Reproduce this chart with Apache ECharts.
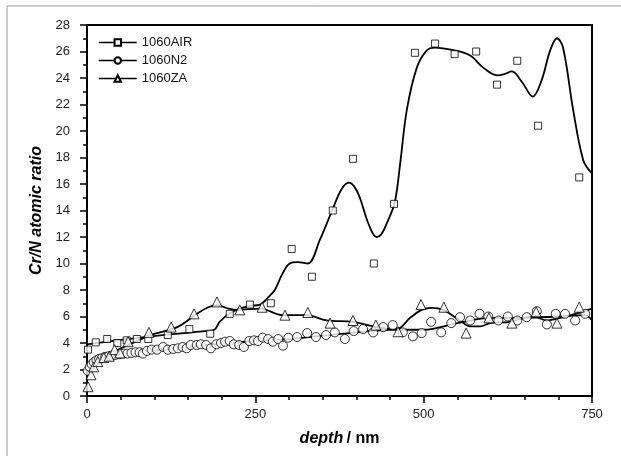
<!DOCTYPE html>
<html>
<head>
<meta charset="utf-8">
<script src="https://cdn.jsdelivr.net/npm/echarts@6/dist/echarts.min.js"></script>
<style>
html,body{margin:0;padding:0;background:#fff;}
#main{width:621px;height:456px;}
</style>
</head>
<body>
<div id="main"></div>
<script>
// 测点数据
var airX = [1.5,13,30,45,59,74,91,120,152,183,212,242,273,304,334,365,395,426,456,487,517,546,578,609,639,670,731];
var airY = [3.5,4.05,4.3,4.0,4.2,4.3,4.3,4.6,5.05,4.7,6.2,6.9,7.0,11.1,9.0,14.0,17.9,10.0,14.5,25.9,26.6,25.8,26.0,23.5,25.3,20.4,16.5];

var n2X = [1,4,7,10,14,18,22,27,32,37,42,48,54,60,66,72,78,83,89,96,104,113,120,128,135,142,148,154,163,169,177,184,192,199,205,212,218,226,233,241,248,254,261,269,276,284,291,299,312,327,340,355,368,383,396,410,425,440,454,469,484,497,511,526,541,554,569,583,596,611,625,639,653,668,683,696,710,725,740];
var n2Y = [1.9,2.2,2.4,2.55,2.7,2.8,2.85,2.95,3.0,3.05,3.1,3.15,3.2,3.2,3.25,3.3,3.3,3.2,3.4,3.5,3.5,3.7,3.5,3.55,3.6,3.7,3.6,3.85,3.85,3.9,3.85,3.6,3.9,4.0,4.1,4.15,3.9,3.85,3.7,4.15,4.2,4.15,4.4,4.3,4.1,4.3,3.8,4.4,4.45,4.75,4.45,4.6,4.8,4.3,4.9,5.05,4.8,5.2,5.35,4.8,4.5,4.75,5.6,4.8,5.5,5.95,5.7,6.2,6.0,5.7,6.0,5.7,5.95,6.4,5.4,6.2,6.2,5.7,6.2];

var zaX = [1.5,6,10,16,25,33,41,49,61,92,125,159,193,227,260,294,328,361,395,429,462,496,530,563,597,631,667,698,731];
var zaY = [0.7,1.6,2.2,2.6,2.9,3.0,3.5,3.25,4.1,4.8,5.2,6.2,7.1,6.5,6.7,6.1,6.3,5.5,5.7,5.35,4.85,6.9,6.7,4.75,5.9,5.5,6.35,5.5,6.7];

// 拟合曲线
var airFitX = [0,44,95,144,175,189,197,212,227,242,257,272,279,290,301,313,328,346,364,378,389,397,405,418,430,437,445,457,465,475,490,505,517,544,569,588,609,620,631,646,662,675,688,698,707,722,737,750];
var airFitY = [3.9,4.2,4.5,4.75,4.9,5.0,5.6,6.25,6.6,6.8,6.9,7.6,8.0,9.2,10.0,10.1,10.0,11.8,14.0,15.6,16.1,15.8,15.0,13.0,12.0,12.2,13.0,14.6,17.5,21.6,24.8,26.1,26.3,26.1,25.7,24.8,24.2,24.3,24.5,23.7,22.6,23.8,26.1,27.0,26.3,21.6,17.8,16.8];

var n2FitX = [0,30,80,150,200,250,300,350,400,450,500,550,600,650,700,740,750];
var n2FitY = [2.0,2.9,3.3,3.7,3.95,4.15,4.3,4.55,4.8,5.0,5.0,5.5,5.9,5.9,6.0,6.1,5.7];

var zaFitX = [0,10,25,55,95,134,163,180,193,210,223,257,291,326,356,395,430,460,480,497,512,529,554,569,584,599,628,663,683,703,732,750];
var zaFitY = [2.0,2.2,2.9,3.7,4.6,5.2,6.2,6.7,6.85,6.6,6.5,6.6,6.1,6.1,5.7,5.6,5.2,5.05,5.9,6.5,6.65,6.5,5.7,5.25,5.25,5.5,5.6,6.0,5.7,5.9,6.3,6.6];

var names = ['1060AIR','1060N2','1060ZA'];

function pairs(xs, ys){
    var out = [];
    for(var i=0;i<xs.length;i++){
        out.push([xs[i], ys[i]]);
    }
    return out;
}

var dom = document.getElementById("main");
var myChart = echarts.init(dom);

var font = 'Liberation Sans, Arial, sans-serif';
var markStyle = {color:'#fff', borderColor:'#000', borderWidth:1};

function fitSeries(name, xs, ys, sym){
    return {
        name: name,
        type: 'line',
        smooth: 0.35,
        symbol: sym,
        showSymbol: false,
        symbolSize: 7,
        itemStyle: markStyle,
        lineStyle: {color:'#000', width:1.8},
        z: 2,
        silent: true,
        data: pairs(xs, ys)
    };
}
function pointSeries(name, xs, ys, sym, size){
    return {
        name: name,
        type: 'scatter',
        symbol: sym,
        symbolSize: size,
        itemStyle: markStyle,
        z: 3,
        data: pairs(xs, ys)
    };
}

var option = {
    animation: false,
    textStyle: {fontFamily: font},
    graphic: [{
        type: 'rect',
        shape: {x: 7, y: 6, width: 700, height: 500},
        style: {fill: 'none', stroke: '#999', lineWidth: 1},
        silent: true
    }],
    grid: {
        left: 87, right: 29, top: 25, bottom: 60,
        show: true,
        borderColor: '#000',
        borderWidth: 2
    },
    legend: {
        orient: 'vertical',
        left: 93,
        top: 31,
        itemWidth: 38,
        itemHeight: 8,
        itemGap: 5,
        data: names,
        lineStyle: {width: 1.5},
        textStyle: {fontSize: 13, color: '#111', fontFamily: font},
        selectedMode: false
    },
    xAxis: {
        type: 'value',
        min: 0, max: 750, interval: 250,
        name: '{i|depth} {n|/ nm}',
        nameLocation: 'middle',
        nameGap: 35,
        nameTextStyle: {
            rich: {
                i: {fontSize: 16, fontWeight: 'bold', fontStyle: 'italic', color: '#000', fontFamily: font},
                n: {fontSize: 16, fontWeight: 'bold', color: '#000', fontFamily: font}
            }
        },
        axisLine: {lineStyle: {color: '#000', width: 2}},
        axisTick: {length: 7, lineStyle: {color: '#000', width: 1.5}},
        minorTick: {show: true, splitNumber: 5, length: 4, lineStyle: {color: '#000', width: 1.5}},
        splitLine: {show: false},
        axisLabel: {margin: 12, fontSize: 13, color: '#222', fontFamily: font}
    },
    yAxis: {
        type: 'value',
        min: 0, max: 28, interval: 2,
        name: 'Cr/N atomic ratio',
        nameLocation: 'middle',
        nameGap: 38,
        nameTextStyle: {fontSize: 16, fontWeight: 'bold', fontStyle: 'italic', color: '#000', fontFamily: font},
        axisLine: {lineStyle: {color: '#000', width: 2}},
        axisTick: {length: 7, lineStyle: {color: '#000', width: 1.5}},
        minorTick: {show: true, splitNumber: 2, length: 4, lineStyle: {color: '#000', width: 1.5}},
        splitLine: {show: false},
        axisLabel: {margin: 17, fontSize: 13, color: '#222', fontFamily: font}
    },
    series: [
        fitSeries('1060AIR', airFitX, airFitY, 'rect'),
        fitSeries('1060N2', n2FitX, n2FitY, 'circle'),
        fitSeries('1060ZA', zaFitX, zaFitY, 'triangle'),
        pointSeries('AIR data', airX, airY, 'rect', 7),
        pointSeries('N2 data', n2X, n2Y, 'circle', 9),
        pointSeries('ZA data', zaX, zaY, 'triangle', 10)
    ]
};

myChart.setOption(option, true);
</script>
</body>
</html>
